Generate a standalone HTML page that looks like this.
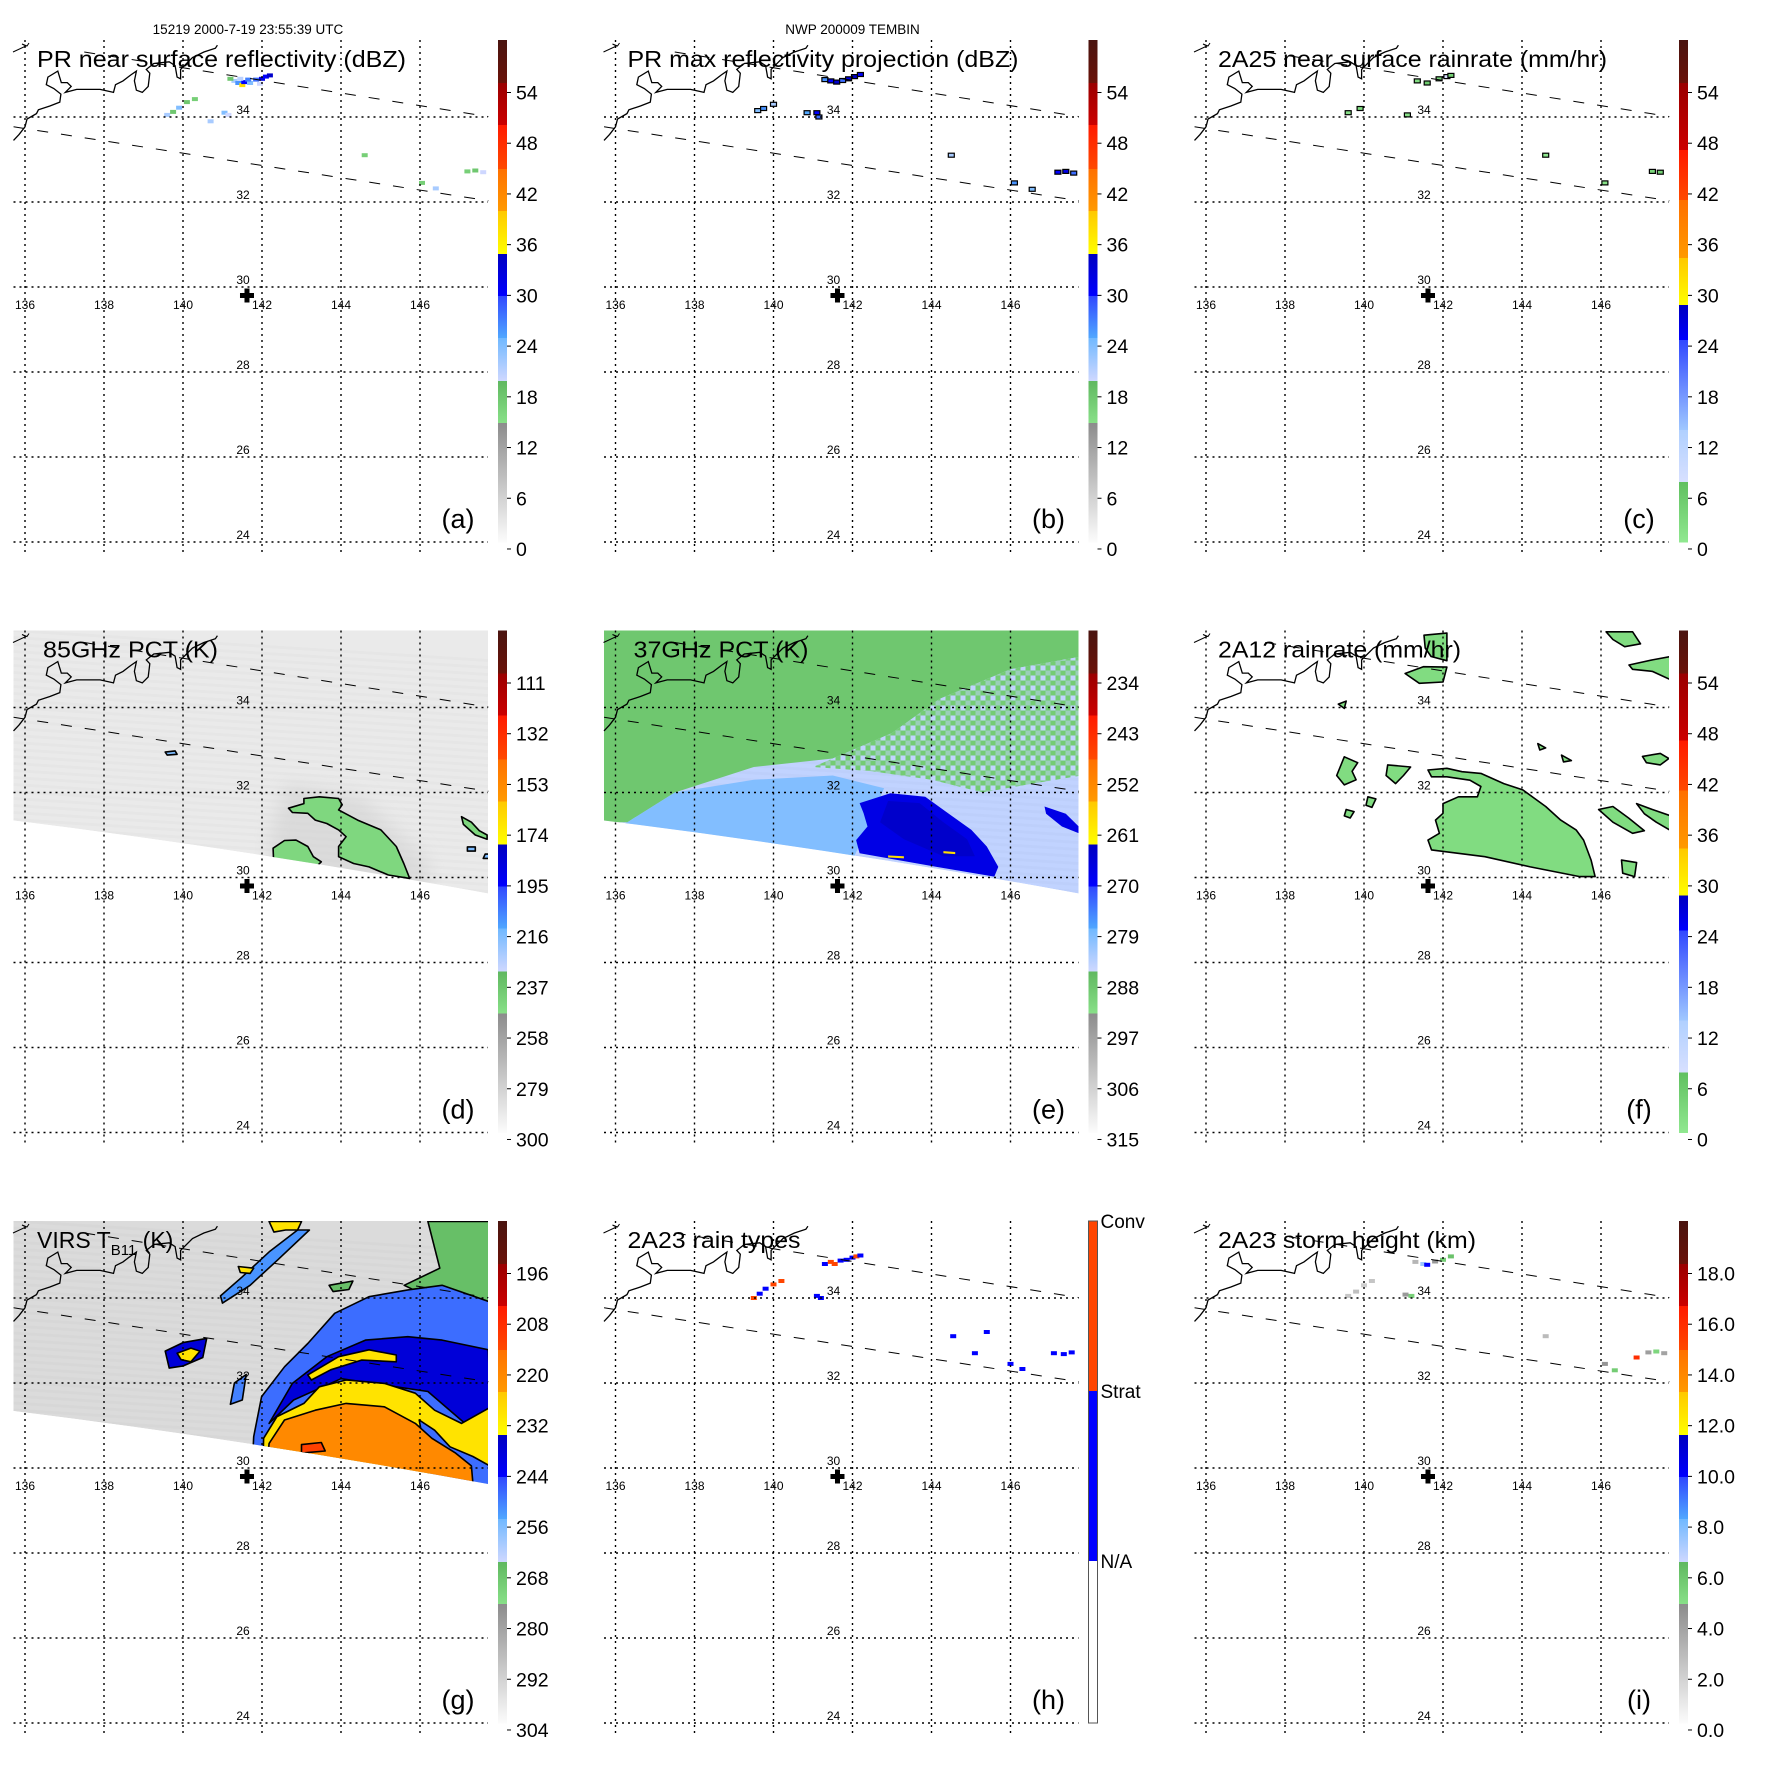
<!DOCTYPE html>
<html><head><meta charset="utf-8"><style>
html,body{margin:0;padding:0;background:#fff;}
svg{display:block;font-family:"Liberation Sans",sans-serif;}
</style></head><body>
<svg id="fig" width="1771" height="1771" viewBox="0 0 1771 1771" xmlns="http://www.w3.org/2000/svg">
<defs>
<filter id="blur6"><feGaussianBlur stdDeviation="9"/></filter>
<filter id="blur2"><feGaussianBlur stdDeviation="1.2"/></filter>
</defs>
</svg>
<script>
// ---------- axis data ----------
const lonTicks = [136,138,140,142,144,146];
const latTicks = [34,32,30,28,26,24];
const ticksStd = ['54','48','42','36','30','24','18','12','6','0'];
const ticks85 = ['111','132','153','174','195','216','237','258','279','300'];
const ticks37 = ['234','243','252','261','270','279','288','297','306','315'];
const ticksVirs = ['196','208','220','232','244','256','268','280','292','304'];
const ticksHt = ['18.0','16.0','14.0','12.0','10.0','8.0','6.0','4.0','2.0','0.0'];
const typeLabels = ['Conv','Strat','N/A'];
const stormCenter = [141.62, 29.8];

const coastLon = [135.71,135.85,136.00,136.05,136.29,136.34,136.63,136.88,136.91,136.73,136.54,136.58,136.83,136.92,137.07,137.17,137.02,137.31,137.90,138.24,138.29,138.48,138.68,138.82,138.77,138.82,138.97,139.12,139.16,139.07,139.26,139.65,139.80,139.85,139.94,139.94,140.24,140.53,140.82,140.87];
const coastLat = [33.45,33.59,33.77,33.95,34.08,34.17,34.26,34.35,34.54,34.67,34.76,34.94,35.08,34.81,34.81,34.72,34.58,34.65,34.65,34.58,34.76,34.85,34.99,35.08,34.85,34.63,34.58,34.72,35.03,35.12,35.26,35.30,35.21,34.94,34.90,35.12,35.40,35.53,35.62,35.69];
const orbitUpper = [[137.5,35.53],[147.73,34.01]];
const orbitLower = [[135.71,33.77],[147.73,32.03]];

// ---------- per-panel data (lon, lat, value) ----------
const echoesA = [[141.3,34.85,22],[141.4,34.8,26],[141.5,34.75,38],[141.55,34.82,30],[141.7,34.8,24],[141.85,34.88,28],[142.0,34.9,32],[142.1,34.95,30],[142.2,34.98,34],[141.95,34.78,20],[141.2,34.9,18],[141.65,34.88,27],[141.45,34.9,21],[139.6,34.05,22],[139.75,34.12,18],[139.9,34.22,24],[140.1,34.35,18],[140.3,34.42,17],[141.05,34.1,24],[141.15,34.05,20],[140.7,33.9,22],[144.6,33.1,17],[147.2,32.72,17],[147.4,32.74,18],[147.6,32.7,20],[146.05,32.45,17],[146.4,32.32,22]];
const echoesB = [[141.3,34.88,26],[141.45,34.85,30],[141.6,34.82,34],[141.75,34.86,28],[141.9,34.9,32],[142.05,34.95,34],[142.2,35.0,30],[139.6,34.15,24],[139.75,34.2,26],[140.0,34.3,22],[140.85,34.1,25],[141.1,34.1,30],[141.15,34.0,28],[144.5,33.1,22],[146.1,32.45,26],[146.55,32.3,24],[147.2,32.7,30],[147.4,32.72,32],[147.6,32.68,28]];
const echoesC = [[141.35,34.85,3],[141.6,34.8,6],[141.9,34.9,4],[142.1,34.95,8],[142.2,34.98,5],[139.6,34.1,2],[139.9,34.2,3],[141.1,34.05,2],[144.6,33.1,1],[147.3,32.72,4],[147.5,32.7,5],[146.1,32.45,2]];
const typesH = [[141.3,34.8,2],[141.45,34.85,3],[141.55,34.8,3],[141.7,34.88,2],[141.85,34.9,2],[142.0,34.95,2],[142.1,34.98,3],[142.2,35.0,2],[139.5,34.0,3],[139.65,34.1,2],[139.8,34.22,2],[140.0,34.32,3],[140.2,34.4,3],[141.1,34.05,2],[141.2,34.0,2],[144.55,33.1,2],[145.4,33.2,2],[145.1,32.7,2],[146.0,32.45,2],[146.3,32.33,2],[147.1,32.7,2],[147.35,32.68,2],[147.55,32.72,2]];
const heightsI = [[141.3,34.85,3.2],[141.5,34.8,7.5],[141.6,34.78,10],[141.8,34.86,4.5],[142.0,34.9,5.8],[142.2,34.98,6.2],[139.6,34.05,2.5],[139.8,34.15,2.8],[140.0,34.3,2.2],[140.2,34.4,2.6],[141.05,34.08,4.4],[141.2,34.05,5.6],[144.6,33.1,3.0],[147.2,32.72,4.2],[147.4,32.74,5.4],[147.6,32.7,4.0],[146.1,32.45,4.6],[146.35,32.3,5.8],[146.9,32.6,16]];

const blobs85 = [
 {v:278, halo:1, pts:[[142.6,32.2],[144.5,31.9],[146.2,30.4],[146.2,29.5],[142.2,29.8],[142.2,31.0]]},
 {v:244, pts:[[143.06,31.86],[143.45,31.90],[143.94,31.86],[144.03,31.71],[143.94,31.59],[144.42,31.35],[145.01,31.12],[145.40,30.73],[145.59,30.33],[145.74,29.98],[145.20,30.06],[144.71,30.25],[144.32,30.33],[143.94,30.49],[143.94,30.73],[144.13,30.96],[143.94,31.12],[143.64,31.27],[143.35,31.35],[143.16,31.51],[142.77,31.53],[142.67,31.63],[143.06,31.74]]},
 {v:244, pts:[[142.28,30.69],[142.57,30.87],[142.86,30.88],[143.16,30.73],[143.30,30.49],[143.50,30.37],[143.2,30.1],[142.3,30.2]]},
 {v:244, pts:[[147.05,31.43],[147.3,31.3],[147.5,31.1],[147.7,31.0],[147.7,30.9],[147.4,31.0],[147.1,31.25]]},
 {v:215, pts:[[139.55,32.95],[139.8,32.98],[139.85,32.9],[139.6,32.88]]},
 {v:215, pts:[[147.2,30.72],[147.4,30.72],[147.4,30.62],[147.2,30.62]]},
 {v:215, pts:[[147.65,30.55],[147.75,30.55],[147.75,30.45],[147.6,30.45]]}
];
const field37 = [
 {v:288, pts:[[135.6,35.9],[147.8,35.9],[147.8,35.2],[146.0,34.9],[144.2,34.2],[143.0,33.4],[141.5,32.8],[139.5,32.6],[137.5,32.0],[136.3,31.3],[135.6,31.3]]},
 {v:288, mix:1, pts:[[143.0,33.4],[144.2,34.2],[146.0,34.9],[147.8,35.2],[147.8,32.4],[146.5,32.2],[145.3,32.0],[144.0,32.3],[142.5,32.5],[141.0,32.6]]},
 {v:279, pts:[[136.3,31.3],[137.5,32.0],[139.5,32.3],[141.5,32.4],[142.8,32.1],[142.0,30.4],[138.0,30.7],[135.6,31.0]]},
 {v:267, pts:[[142.18,31.75],[142.96,31.98],[143.84,31.90],[144.42,31.51],[145.01,31.12],[145.40,30.73],[145.69,30.25],[145.59,30.02],[144.13,30.25],[143.16,30.41],[142.18,30.57],[142.09,30.88],[142.38,31.20],[142.28,31.51]]},
 {v:264, pts:[[142.9,31.8],[143.7,31.75],[144.3,31.3],[144.9,30.9],[145.1,30.5],[144.3,30.5],[143.3,30.9],[142.7,31.3]]},
 {v:267, pts:[[146.86,31.67],[147.4,31.5],[147.73,31.2],[147.73,31.04],[147.3,31.2],[146.9,31.5]]},
 {v:258, pts:[[142.9,30.52],[143.3,30.5],[143.3,30.45],[142.9,30.47]]},
 {v:258, pts:[[144.3,30.62],[144.6,30.6],[144.6,30.55],[144.3,30.57]]}
];
const blobs2A12 = [
 {v:3, pts:[[141.62,32.53],[142.10,32.57],[142.48,32.49],[142.96,32.45],[143.54,32.21],[144.02,32.06],[144.60,31.67],[144.98,31.35],[145.37,31.12],[145.56,30.88],[145.75,30.41],[145.85,30.02],[145.46,30.02],[144.21,30.25],[143.06,30.49],[141.71,30.65],[141.62,30.88],[141.91,31.04],[141.81,31.35],[142.00,31.51],[142.00,31.74],[142.39,31.90],[142.87,31.90],[142.96,32.14],[142.68,32.29],[142.10,32.37],[141.71,32.37]]},
 {v:3, pts:[[139.5,32.84],[139.84,32.7],[139.7,32.5],[139.8,32.3],[139.5,32.18],[139.31,32.4]]},
 {v:3, pts:[[140.6,32.65],[141.18,32.6],[141.0,32.4],[140.8,32.21],[140.56,32.4]]},
 {v:3, pts:[[145.94,31.6],[146.3,31.67],[146.7,31.4],[147.1,31.1],[146.8,31.04],[146.3,31.3]]},
 {v:3, pts:[[146.9,31.74],[147.3,31.6],[147.77,31.45],[147.77,31.1],[147.4,31.3],[147.1,31.5]]},
 {v:3, pts:[[146.52,30.41],[146.9,30.35],[146.85,30.02],[146.55,30.1]]},
 {v:3, pts:[[147.05,32.85],[147.5,32.92],[147.72,32.8],[147.5,32.65],[147.15,32.7]]},
 {v:3, pts:[[146.13,35.78],[146.8,35.78],[147.0,35.5],[146.6,35.43],[146.3,35.6]]},
 {v:3, pts:[[146.71,35.0],[147.3,35.12],[147.77,35.2],[147.77,34.65],[147.3,34.85],[146.8,34.9]]},
 {v:3, pts:[[141.04,34.8],[141.5,34.96],[142.1,34.95],[142.0,34.6],[141.4,34.57]]},
 {v:3, pts:[[141.52,35.7],[142.1,35.75],[142.1,35.1],[141.7,35.2],[141.55,35.4]]},
 {v:3, pts:[[139.35,34.08],[139.55,34.15],[139.5,33.98]]},
 {v:3, pts:[[140.1,31.9],[140.3,31.85],[140.2,31.65],[140.05,31.7]]},
 {v:3, pts:[[139.55,31.6],[139.75,31.55],[139.65,31.4],[139.5,31.45]]},
 {v:3, pts:[[144.4,33.15],[144.6,33.05],[144.45,33.0]]},
 {v:3, pts:[[145.0,32.88],[145.25,32.75],[145.05,32.72]]}
];
const virsField = [
 {v:266, pts:[[145.6,34.3],[146.5,34.7],[146.2,35.8],[147.8,35.8],[147.8,33.6],[146.5,33.9]]},
 {v:248, pts:[[141.79,30.74],[141.99,31.68],[142.57,32.38],[143.16,32.93],[143.84,33.64],[144.71,34.03],[145.69,34.19],[146.56,34.3],[147.8,33.9],[147.8,29.0],[141.7,29.0]]},
 {v:238, pts:[[142.18,31.05],[142.77,31.99],[143.64,32.62],[144.62,33.01],[145.69,33.09],[146.56,33.01],[147.73,32.78],[147.8,31.0],[147.2,31.0],[146.2,31.8],[144.0,32.1],[142.8,31.6]]},
 {v:229, pts:[[142.04,30.70],[142.38,31.21],[143.06,31.52],[143.45,31.91],[144.13,32.07],[145.10,31.99],[145.88,31.76],[146.37,31.36],[147.05,31.05],[147.8,31.44],[147.8,30.03],[147.34,30.27],[146.76,30.50],[146.37,30.89],[145.98,31.13],[146.4,29.0],[142.0,29.0]]},
 {v:220, pts:[[142.18,30.58],[142.57,31.13],[143.35,31.36],[144.13,31.52],[145.10,31.44],[145.88,31.05],[146.3,30.7],[146.9,30.35],[147.3,30.05],[147.4,29.0],[142.0,29.0]]},
 {v:212, pts:[[143.0,30.55],[143.5,30.6],[143.6,30.4],[143.0,30.35]]},
 {v:229, pts:[[143.16,32.19],[143.94,32.62],[144.71,32.78],[145.40,32.66],[145.40,32.50],[144.52,32.54],[143.74,32.31],[143.25,32.07]]},
 {v:238, pts:[[139.55,32.75],[140.0,32.95],[140.6,33.05],[140.5,32.6],[140.0,32.4],[139.65,32.35]]},
 {v:229, pts:[[139.85,32.7],[140.2,32.82],[140.43,32.75],[140.2,32.5],[139.95,32.55]]},
 {v:252, pts:[[141.0,33.88],[141.7,34.3],[142.4,34.9],[143.2,35.6],[142.9,35.6],[142.2,35.1],[141.5,34.5],[140.95,34.05]]},
 {v:229, pts:[[141.4,34.74],[141.79,34.7],[141.7,34.58],[141.45,34.6]]},
 {v:229, pts:[[142.18,35.8],[143.0,35.8],[142.9,35.6],[142.6,35.6],[142.3,35.55]]},
 {v:250, pts:[[141.3,32.0],[141.6,32.2],[141.5,31.6],[141.2,31.5]]},
 {v:266, pts:[[143.7,34.3],[144.3,34.4],[144.2,34.2],[143.8,34.15]]}
];

// ---------- layout ----------
const NS = 'http://www.w3.org/2000/svg';
const svg = document.getElementById('fig');
const STEP = 590.5;
function X(lon){ return 25 + (lon-136)*39.5; }
function Y(lat){ return 117 + (34-lat)*42.5; }
const CB_TOP = 40, CB_BOT = 542, T0 = 92.5, TSTEP = 50.72;

const bandsStd = [[40,83,'#4a1410','#6a1208'],[83,125,'#9a0000','#cc0000'],[125,169,'#ff1a00','#ff4a00'],[169,211,'#ff7000','#ff9a00'],[211,254,'#ffc800','#ffff00'],[254,296,'#0000c0','#0000ff'],[296,338,'#3048ff','#50a8ff'],[338,381,'#70b8ff','#d0d8ff'],[381,423,'#60b860','#88e088'],[423,542,'#8c8c8c','#fcfcfc']];
const bandsRain = [[40,83,'#4a1410','#6a1208'],[83,150,'#9a0000','#cc0000'],[150,200,'#ff1a00','#ff4a00'],[200,258,'#ff7000','#ff9a00'],[258,305,'#ffc800','#ffff00'],[305,340,'#0000c0','#0000ff'],[340,430,'#3048ff','#a0c8ff'],[430,482,'#b0d0ff','#d8e0ff'],[482,542,'#60c060','#90e890']];

function hex2(c){return [1,3,5].map(i=>parseInt(c.substr(i,2),16));}
function mix(a,b,t){const A=hex2(a),B=hex2(b);return 'rgb('+A.map((v,i)=>Math.round(v+(B[i]-v)*t)).join(',')+')';}
function colorAt(bands,y){
  y=Math.max(CB_TOP,Math.min(CB_BOT-0.1,y));
  for(const b of bands){ if(y>=b[0]&&y<b[1]) return mix(b[2],b[3],(y-b[0])/(b[1]-b[0])); }
  return '#fff';
}
function valScale(first,last){ return v => T0 + (v-first)/(last-first)*9*TSTEP; }

function el(tag,attrs,parent){const e=document.createElementNS(NS,tag);for(const k in attrs)e.setAttribute(k,attrs[k]);(parent||svg).appendChild(e);return e;}
function ptsStr(pts){return pts.map(p=>X(p[0]).toFixed(1)+','+Y(p[1]).toFixed(1)).join(' ');}

const panels = [
 {k:'a',c:0,r:0,title:'PR near surface reflectivity (dBZ)',tw:369,tx:37,ticks:ticksStd,bands:bandsStd,scale:valScale(54,0),echoes:echoesA,header:'15219 2000-7-19 23:55:39 UTC'},
 {k:'b',c:1,r:0,title:'PR max reflectivity projection (dBZ)',tw:391,tx:37,ticks:ticksStd,bands:bandsStd,scale:valScale(54,0),echoes:echoesB,outline:1,header:'NWP 200009 TEMBIN'},
 {k:'c',c:2,r:0,title:'2A25 near surface rainrate (mm/hr)',tw:389,tx:37,ticks:ticksStd,bands:bandsRain,scale:valScale(54,0),echoes:echoesC,outline:1},
 {k:'d',c:0,r:1,title:'85GHz PCT (K)',tw:175,tx:43,ticks:ticks85,bands:bandsStd,scale:valScale(111,300),bg:289,blobs:blobs85,stroke:1},
 {k:'e',c:1,r:1,title:'37GHz PCT (K)',tw:175,tx:43,ticks:ticks37,bands:bandsStd,scale:valScale(234,315),bg:284,blobs:field37},
 {k:'f',c:2,r:1,title:'2A12 rainrate (mm/hr)',tw:243,tx:37,ticks:ticksStd,bands:bandsRain,scale:valScale(54,0),blobs:blobs2A12,stroke:1},
 {k:'g',c:0,r:2,title:'VIRS',tw:0,tx:37,ticks:ticksVirs,bands:bandsStd,scale:valScale(196,304),bg:294,blobs:virsField,stroke:1},
 {k:'h',c:1,r:2,title:'2A23 rain types',tw:173,tx:37,types:1,echoes:typesH},
 {k:'i',c:2,r:2,title:'2A23 storm height (km)',tw:258,tx:37,ticks:ticksHt,bands:bandsStd,scale:valScale(18,0),echoes:heightsI}
];

const swathPath = 'M13.5,40 L488,40 L488,303 Q250.75,259.5 13.5,230 Z';

panels.forEach(p=>{
  const g = el('g',{transform:`translate(${(p.c*STEP).toFixed(1)},${(p.r*STEP).toFixed(1)})`});
  
  
  const cid='clip-'+p.k;
  const cp=el('clipPath',{id:cid},g); el('path',{d:swathPath},cp);
  const data=el('g',{'clip-path':`url(#${cid})`},g);
  
  
  const typeColor = v => v===3?'#ff4500':(v===2?'#0000ff':'#fff');
  const colorOf = v => p.types ? typeColor(v) : colorAt(p.bands,p.scale(v));
  if(p.bg){ const bgr=el('path',{d:swathPath,fill:colorOf(p.bg)},data);
     
    for(let i=0;i<40;i++){ el('line',{x1:13,y1:40+i*7,x2:488,y2:40+i*7+30,stroke:'#000','stroke-opacity':0.015,'stroke-width':3},data); }
  }
  if(p.blobs){
    if(p.k==='e'){
      const pat=el('pattern',{id:'mix-e',width:10,height:10,patternUnits:'userSpaceOnUse'},g);
      el('rect',{x:0,y:0,width:10,height:10,fill:colorOf(284)},pat);
      el('rect',{x:0,y:0,width:5,height:5,fill:colorOf(289)},pat);
      el('rect',{x:5,y:5,width:5,height:5,fill:colorOf(289)},pat);
      el('rect',{x:5,y:0,width:5,height:5,fill:colorOf(289),'fill-opacity':0.5},pat);
    }
    p.blobs.forEach((b,i)=>{
      const attrs={points:ptsStr(b.pts),fill:b.mix?'url(#mix-e)':colorOf(b.v)};
      if(b.halo){attrs.filter='url(#blur6)';attrs['fill-opacity']=0.6;}
      else if(p.stroke){attrs.stroke='#000';attrs['stroke-width']=1.6;attrs['stroke-linejoin']='round';}
      const poly=el('polygon',attrs,data);
      
      
    });
  }
  if(p.echoes){
    p.echoes.forEach((e,i)=>{
      const r=el('rect',{x:(X(e[0])-3).toFixed(1),y:(Y(e[1])-2).toFixed(1),width:6,height:4,fill:colorOf(e[2])},data);
      if(p.outline){r.setAttribute('stroke','#000');r.setAttribute('stroke-width','1.2');}
      
      
    });
  }
  const coast=el('polyline',{points:coastLon.map((lo,i)=>X(lo).toFixed(1)+','+Y(coastLat[i]).toFixed(1)).join(' '),fill:'none',stroke:'#000','stroke-width':1.3},g);
  
  
  el('polyline',{points:'13,52 26,46 22,44 27,46 29,43',fill:'none',stroke:'#000','stroke-width':1},g);
  [orbitUpper,orbitLower].forEach((o,i)=>{
    const l=el('line',{x1:X(o[0][0]),y1:Y(o[0][1]),x2:X(o[1][0]),y2:Y(o[1][1]),stroke:'#000','stroke-width':1,'stroke-dasharray':'11,13'},g);
    
    
  });
  lonTicks.forEach(lo=>{
    const l=el('line',{x1:X(lo),y1:40,x2:X(lo),y2:552,stroke:'#000','stroke-width':1.4,'stroke-dasharray':'2,4'},g);
     
    const t=el('text',{x:X(lo),y:309,'font-size':12,'text-anchor':'middle'},g); t.textContent=lo;
     
  });
  latTicks.forEach(la=>{
    const l=el('line',{x1:13.5,y1:Y(la),x2:488,y2:Y(la),stroke:'#000','stroke-width':1.4,'stroke-dasharray':'2,4'},g);
     
    const t=el('text',{x:243,y:Y(la)-3,'font-size':12,'text-anchor':'middle'},g); t.textContent=la;
     
  });
  const cx=X(stormCenter[0]),cy=Y(stormCenter[1]);
  const mk=el('path',{d:`M${cx-7},${cy-2.5}h14v5h-14z M${cx-2.5},${cy-7}h5v14h-5z`,fill:'#000'},g);
   
  let tt;
  if(p.k==='g'){
    tt=el('text',{x:p.tx,y:67,'font-size':23},g);
    tt.innerHTML='VIRS T<tspan font-size="15" dy="7">B11</tspan><tspan dy="-7"> (K)</tspan>';
  } else {
    tt=el('text',{x:p.tx,y:67,'font-size':23,textLength:p.tw,lengthAdjust:'spacingAndGlyphs'},g);
    tt.textContent=p.title;
  }
   
  const lab=el('text',{x:458,y:528,'font-size':27,'text-anchor':'middle'},g); lab.textContent='('+p.k+')';
   
  if(p.header){const h=el('text',{x:p.k==='a'?248:262,y:34,'font-size':13.5,'text-anchor':'middle'},g);h.textContent=p.header;
     }
  const cb=el('g',{},g);
   
  if(p.types){
    el('rect',{x:498,y:40,width:9,height:170,fill:'#ff4500'},cb);
    el('rect',{x:498,y:210,width:9,height:170,fill:'#0000ff'},cb);
    el('rect',{x:498,y:40,width:9,height:502,fill:'none',stroke:'#555','stroke-width':1},cb);
    [40,210,380].forEach((yy,i)=>{const t=el('text',{x:510,y:yy+7,'font-size':19},cb);t.textContent=typeLabels[i];
       });
  } else {
    p.bands.forEach(b=>{
      const id='gr'+p.k+b[0];
      const lg=el('linearGradient',{id,x1:0,y1:0,x2:0,y2:1},cb);
      el('stop',{offset:0,'stop-color':b[2]},lg); el('stop',{offset:1,'stop-color':b[3]},lg);
      el('rect',{x:498,y:b[0],width:9,height:b[1]-b[0]+0.5,fill:`url(#${id})`},cb);
    });
    p.ticks.forEach((t,i)=>{const yy=T0+i*TSTEP;
      el('line',{x1:507,y1:yy,x2:511,y2:yy,stroke:'#000','stroke-width':1},cb);
      const tx=el('text',{x:516,y:yy+7,'font-size':19.5},cb); tx.textContent=t;
       });
  }
});
</script>
</body></html>
